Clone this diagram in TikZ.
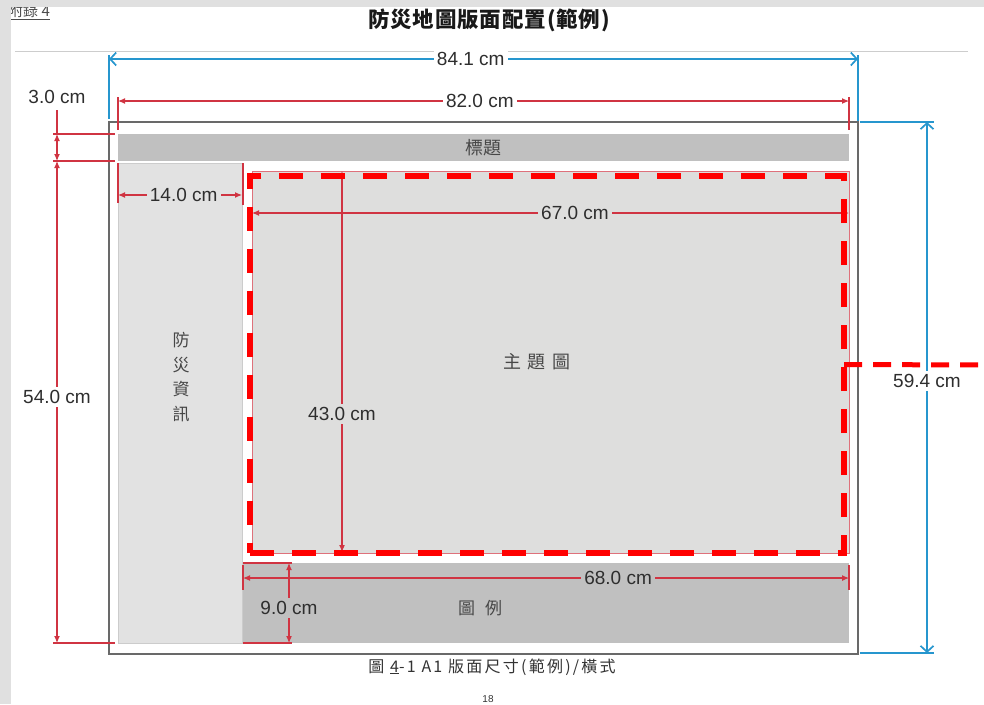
\documentclass[tikz,border=0pt]{standalone}
\usepackage{fontspec}
\setmainfont{Liberation Sans}
\newfontfamily\cjk{Noto Sans CJK TC}
\usetikzlibrary{positioning,arrows.meta}

\definecolor{dimred}{RGB}{208,52,66}
\definecolor{dashred}{RGB}{255,0,0}
\definecolor{dimblue}{RGB}{38,150,206}
\definecolor{bargray}{RGB}{192,192,192}
\definecolor{panelgray}{RGB}{226,226,226}
\definecolor{mapgray}{RGB}{222,222,221}
\definecolor{framegray}{RGB}{105,105,105}
\definecolor{pagegray}{RGB}{224,224,224}
\definecolor{rulegray}{RGB}{205,205,205}

\begin{document}
\begin{tikzpicture}[x=1pt, y=-1pt]
    \tikzset{
        block/.style = {rectangle, inner sep=0pt, outer sep=0pt, anchor=north west},
        dimline/.style = {draw=dimred, line width=1.1pt},
        dimarrow/.style = {dimline, {Latex[length=7pt,width=6pt]}-{Latex[length=7pt,width=6pt]}},
        blueline/.style = {draw=dimblue, line width=1.7pt},
        bluearrow/.style = {blueline, {Straight Barb[length=6pt,width=13pt]}-{Straight Barb[length=6pt,width=13pt]}},
        dimlabel/.style = {font=\fontsize{19}{19}\selectfont, text=black!82, inner sep=3pt},
        cjklabel/.style = {font=\cjk\fontsize{17}{17}\selectfont, text=black!72},
        mapdash/.style = {draw=dashred, line width=5.5pt, dash pattern=on 24pt off 18pt},
    }
    \useasboundingbox (0,0) rectangle (984,704);

    % page header
    \node (appendix) [font=\cjk\fontsize{15}{15}\selectfont, text=black!70] at (29,12) {\underline{附錄 4}};
    \fill [pagegray] (0,0) rectangle (984,7);
    \fill [pagegray] (0,0) rectangle (11,704);
    \node (heading) [font=\cjk\bfseries\fontsize{21.5}{21.5}\selectfont, text=black!90] at (489,20) {\addfontfeature{LetterSpace=4}防災地圖版面配置(範例)};
    \coordinate (ruleL) at (15,51);
    \coordinate (ruleR) at (968,51);
    \draw [rulegray, line width=1pt] (ruleL) -- (ruleR);

    % sheet and blocks
    \node (sheet) [block, draw=framegray, line width=1.2pt, minimum width=749pt, minimum height=532pt] at (109,122) {};
    \node (titlebar) [block, fill=bargray, minimum width=731pt, minimum height=27pt] at (118,134) {};
    \node (titletext) [cjklabel, font=\cjk\fontsize{18}{18}\selectfont] at (titlebar.center) {標題};
    \node (infopanel) [block, fill=panelgray, draw=black!20, line width=0.6pt, minimum width=124pt, minimum height=480pt] at (118,163) {};
    \node (infotext) [cjklabel, align=center, font=\cjk\fontsize{17}{24.5}\selectfont] at (181,377) {防\\災\\資\\訊};
    \node (mapframe) [block, fill=mapgray, draw=dimred!70, line width=0.8pt, minimum width=597pt, minimum height=382pt] at (252,171) {};
    \node (maptext) [cjklabel, font=\cjk\fontsize{18}{18}\selectfont] at (537,362) {主\hspace{7pt}題\hspace{7pt}圖};
    \node (legendbar) [block, fill=bargray, minimum width=606pt, minimum height=80pt] at (243,563) {};
    \node (legendtext) [cjklabel] at (480,608) {圖\hspace{10pt}例};

    % overall width 84.1
    \coordinate (wideL) at (109,59);
    \coordinate (wideR) at (858,59);
    \coordinate (wideLtop) at (109,55);
    \coordinate (wideLdn) at (109,119);
    \coordinate (wideRtop) at (858,55);
    \coordinate (wideRdn) at (858,121);
    \draw [blueline] (wideLtop) -- (wideLdn);
    \draw [blueline] (wideRtop) -- (wideRdn);
    \draw [bluearrow] (wideL) -- node[dimlabel, fill=white, pos=0.483] {84.1 cm} (wideR);

    % overall height 59.4
    \coordinate (tallT) at (927,122);
    \coordinate (tallB) at (927,653);
    \coordinate (tallTL) at (860,122);
    \coordinate (tallTR) at (934,122);
    \coordinate (tallBL) at (860,653);
    \coordinate (tallBR) at (934,653);
    \draw [blueline] (tallTL) -- (tallTR);
    \draw [blueline] (tallBL) -- (tallBR);
    \draw [bluearrow] (tallT) -- node[dimlabel, fill=white, pos=0.488] {59.4 cm} (tallB);

    % inner width 82.0
    \coordinate (innerL) at (118,101);
    \coordinate (innerR) at (849,101);
    \coordinate (innerLtop) at (118,97);
    \coordinate (innerLdn) at (118,130);
    \coordinate (innerRtop) at (849,97);
    \coordinate (innerRdn) at (849,130);
    \draw [dimline] (innerLtop) -- (innerLdn);
    \draw [dimline] (innerRtop) -- (innerRdn);
    \draw [dimarrow] (innerL) -- node[dimlabel, fill=white, pos=0.495] {82.0 cm} (innerR);

    % title height 3.0 and inner height 54.0
    \coordinate (tickA1) at (53,134);
    \coordinate (tickA2) at (115,134);
    \coordinate (tickB1) at (53,161);
    \coordinate (tickB2) at (115,161);
    \coordinate (tickC1) at (53,643);
    \coordinate (tickC2) at (115,643);
    \draw [dimline] (tickA1) -- (tickA2);
    \draw [dimline] (tickB1) -- (tickB2);
    \draw [dimline] (tickC1) -- (tickC2);
    \coordinate (barTop) at (57,134);
    \coordinate (barBot) at (57,161);
    \coordinate (barLead) at (57,110);
    \coordinate (sideBot) at (57,643);
    \node (barlabel) [dimlabel] at (57,97) {3.0 cm};
    \draw [dimline] (barLead) -- (barTop);
    \draw [dimarrow] (barTop) -- (barBot);
    \draw [dimarrow] (barBot) -- node[dimlabel, fill=white, pos=0.49] {54.0 cm} (sideBot);

    % info panel width 14.0
    \coordinate (infoL) at (118,195);
    \coordinate (infoR) at (242,195);
    \coordinate (infoLtop) at (118,163);
    \coordinate (infoLdn) at (118,203);
    \coordinate (infoRtop) at (243,163);
    \coordinate (infoRdn) at (243,205);
    \draw [dimline] (infoLtop) -- (infoLdn);
    \draw [dimline] (infoRtop) -- (infoRdn);
    \draw [dimarrow] (infoL) -- node[dimlabel, fill=panelgray, pos=0.53] {14.0 cm} (infoR);

    % map size 67.0 x 43.0
    \coordinate (mapL) at (252,213);
    \coordinate (mapR) at (849,213);
    \draw [dimarrow] (mapL) -- node[dimlabel, fill=mapgray, pos=0.541] {67.0 cm} (mapR);
    \coordinate (mapT) at (342,171);
    \coordinate (mapB) at (342,552);
    \draw [dimarrow] (mapT) -- node[dimlabel, fill=mapgray, pos=0.638] {43.0 cm} (mapB);

    % dashed map zone
    \node (mapzone) [block, mapdash, minimum width=594pt, minimum height=377pt] at (250,176) {};
    \coordinate (leadR) at (984,365);
    \draw [draw=dashred, line width=5pt, dash pattern=on 18pt off 11pt] (mapzone.east) -- (leadR);

    % legend size 68.0 x 9.0
    \coordinate (legL) at (243,578);
    \coordinate (legR) at (849,578);
    \coordinate (legLtop) at (243,565);
    \coordinate (legLdn) at (243,590);
    \coordinate (legRtop) at (849,565);
    \coordinate (legRdn) at (849,590);
    \draw [dimline] (legLtop) -- (legLdn);
    \draw [dimline] (legRtop) -- (legRdn);
    \draw [dimarrow] (legL) -- node[dimlabel, fill=bargray, pos=0.619] {68.0 cm} (legR);
    \coordinate (legT1) at (243,563);
    \coordinate (legT2) at (292,563);
    \coordinate (legB1) at (243,643);
    \coordinate (legB2) at (292,643);
    \draw [dimline] (legT1) -- (legT2);
    \draw [dimline] (legB1) -- (legB2);
    \coordinate (legT) at (289,563);
    \coordinate (legB) at (289,643);
    \draw [dimarrow] (legT) -- node[dimlabel, fill=bargray, pos=0.56] {9.0 cm} (legB);

    % caption
    \node (caption) [font=\cjk\fontsize{16}{16}\selectfont, text=black!80] at (492,667) {\addfontfeature{LetterSpace=14}圖 \underline{4}-1 A1 版面尺寸(範例)/橫式};
    \node (pageno) [font=\fontsize{10}{10}\selectfont, text=black!80] at (488,699) {18};
\end{tikzpicture}
\end{document}
